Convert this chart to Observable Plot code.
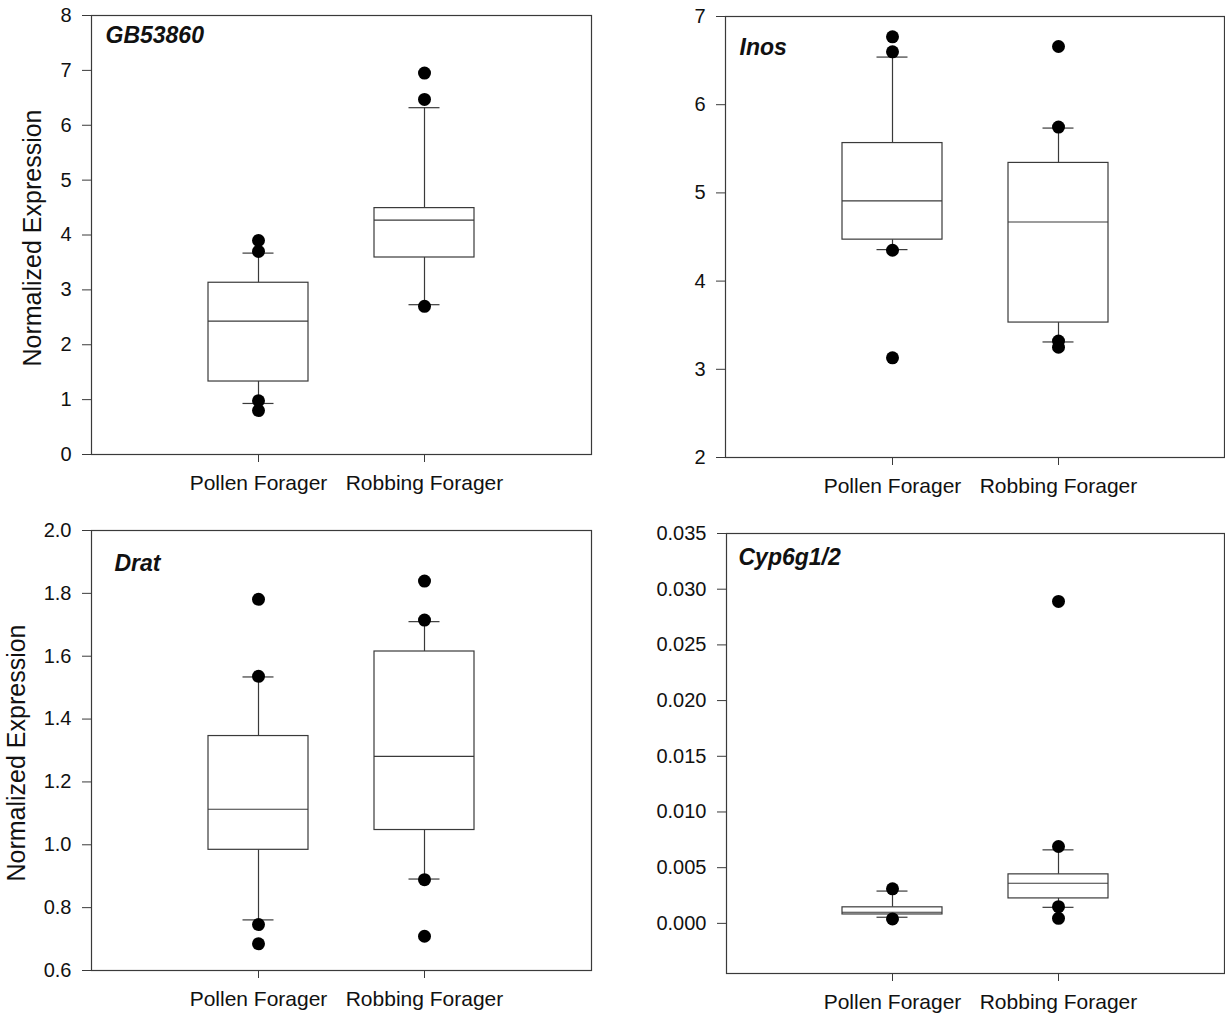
<!DOCTYPE html>
<html><head><meta charset="utf-8">
<script src="https://cdn.jsdelivr.net/npm/d3@7"></script>
<script src="https://cdn.jsdelivr.net/npm/@observablehq/plot@0.6"></script>
<style>
body{margin:0;background:#fff;}
#wrap{position:relative;width:1225px;height:1016px;font-family:"Liberation Sans",Arial,sans-serif;background:#fff;overflow:hidden;}
.panel{position:absolute;}
.ylab{position:absolute;transform:translate(-50%,-50%) rotate(-90deg);white-space:nowrap;font-size:25px;color:#111;line-height:1;}
</style></head><body><div id="wrap"></div>
<script>
const categories = ["Pollen Forager", "Robbing Forager"];
const genes = ["GB53860", "Inos", "Drat", "Cyp6g1/2"];
// per gene: [Pollen, Robbing]
const q1Values = [[1.33, 3.59], [4.47, 3.53], [0.984, 1.047], [0.0008, 0.00224]];
const medianValues = [[2.43, 4.27], [4.91, 4.67], [1.113, 1.281], [0.0010, 0.0036]];
const q3Values = [[3.13, 4.49], [5.565, 5.34], [1.346, 1.615], [0.00144, 0.0044]];
const whiskerLow = [[0.93, 2.73], [4.357, 3.31], [0.761, 0.891], [0.00055, 0.00144]];
const whiskerHigh = [[3.67, 6.32], [6.54, 5.735], [1.534, 1.71], [0.0029, 0.0066]];
const outlierValues = [
  [[3.90, 3.70, 0.98, 0.80], [6.95, 6.47, 2.70]],
  [[6.77, 6.60, 4.35, 3.13], [6.66, 5.746, 3.32, 3.25]],
  [[1.781, 1.536, 0.746, 0.685], [1.839, 1.715, 0.889, 0.709]],
  [[0.0031, 0.0004], [0.0289, 0.0069, 0.0015, 0.00045]]
];
const yDomains = [[0, 8], [2, 7], [0.6, 2.0], [-0.0045, 0.035]];
const yTicks = [
  [0, 1, 2, 3, 4, 5, 6, 7, 8],
  [2, 3, 4, 5, 6, 7],
  [0.6, 0.8, 1.0, 1.2, 1.4, 1.6, 1.8, 2.0],
  [0, 0.005, 0.010, 0.015, 0.020, 0.025, 0.030, 0.035]
];
const yFormats = [d3.format("d"), d3.format("d"), d3.format(".1f"), d3.format(".3f")];
const yAxisLabel = "Normalized Expression";

// layout of each panel
const layout = [
  {left: 0, top: 0, width: 600, height: 510, mt: 15, mb: 56, ml: 91, mr: 9, tdx: 14, tdy: 11, ylab: {x: 32, y: 238}},
  {left: 620, top: 0, width: 605, height: 515, mt: 16, mb: 58, ml: 105, mr: 1, tdx: 14, tdy: 22},
  {left: 0, top: 515, width: 600, height: 501, mt: 15, mb: 46, ml: 91, mr: 9, tdx: 23, tdy: 24, ylab: {x: 16, y: 753}},
  {left: 620, top: 515, width: 605, height: 501, mt: 18, mb: 43, ml: 106, mr: 1, tdx: 12, tdy: 15}
];

const FONT = '"Liberation Sans", Arial, sans-serif';
const LINE = "#3a3a3a";
const wrap = document.getElementById("wrap");

genes.forEach((gene, i) => {
  const L = layout[i];
  const boxes = categories.map((c, j) => ({
    cat: c, q1: q1Values[i][j], med: medianValues[i][j], q3: q3Values[i][j],
    lo: whiskerLow[i][j], hi: whiskerHigh[i][j]
  }));
  const pts = categories.flatMap((c, j) => outlierValues[i][j].map(v => ({cat: c, v})));
  const svg = Plot.plot({
    width: L.width, height: L.height,
    marginTop: L.mt, marginBottom: L.mb, marginLeft: L.ml, marginRight: L.mr,
    style: {fontFamily: FONT, color: "#111", background: "white", overflow: "visible"},
    x: {type: "band", domain: categories, paddingInner: 0.4, paddingOuter: 0.7, label: null, axis: null},
    y: {domain: yDomains[i], label: null, axis: null},
    marks: [
      Plot.ruleX(boxes, {x: "cat", y1: "q3", y2: "hi", stroke: LINE, strokeWidth: 1.2}),
      Plot.ruleX(boxes, {x: "cat", y1: "lo", y2: "q1", stroke: LINE, strokeWidth: 1.2}),
      Plot.barY(boxes, {x: "cat", y1: "q1", y2: "q3", fill: "white", stroke: LINE, strokeWidth: 1.2}),
      Plot.tickY(boxes, {x: "cat", y: "med", stroke: LINE, strokeWidth: 1.2}),
      Plot.tickY(boxes, {x: "cat", y: "hi", insetLeft: 34.5, insetRight: 34.5, stroke: LINE, strokeWidth: 1.2}),
      Plot.tickY(boxes, {x: "cat", y: "lo", insetLeft: 34.5, insetRight: 34.5, stroke: LINE, strokeWidth: 1.2}),
      Plot.dot(pts, {x: "cat", y: "v", r: 6.5, fill: "black", stroke: "none"}),
      Plot.frame({stroke: LINE, strokeWidth: 1.2}),
      Plot.axisY({ticks: yTicks[i], tickFormat: yFormats[i], tickSize: 9, tickPadding: 11, fontSize: 20, label: null, stroke: LINE, fill: "#111"}),
      Plot.axisX({tickSize: 8, tickPadding: 13, fontSize: 21, label: null, stroke: LINE, fill: "#111"}),
      Plot.text([gene], {frameAnchor: "top-left", text: d => d, textAnchor: "start", lineAnchor: "top",
        dx: L.tdx, dy: L.tdy, fontSize: 23, fontWeight: "bold", fontStyle: "italic", fill: "#111"})
    ]
  });
  svg.classList.add("panel");
  svg.style.left = L.left + "px";
  svg.style.top = L.top + "px";
  wrap.appendChild(svg);
  if (L.ylab) {
    const d = document.createElement("div");
    d.className = "ylab";
    d.textContent = yAxisLabel;
    d.style.left = L.ylab.x + "px";
    d.style.top = L.ylab.y + "px";
    wrap.appendChild(d);
  }
});
</script></body></html>
